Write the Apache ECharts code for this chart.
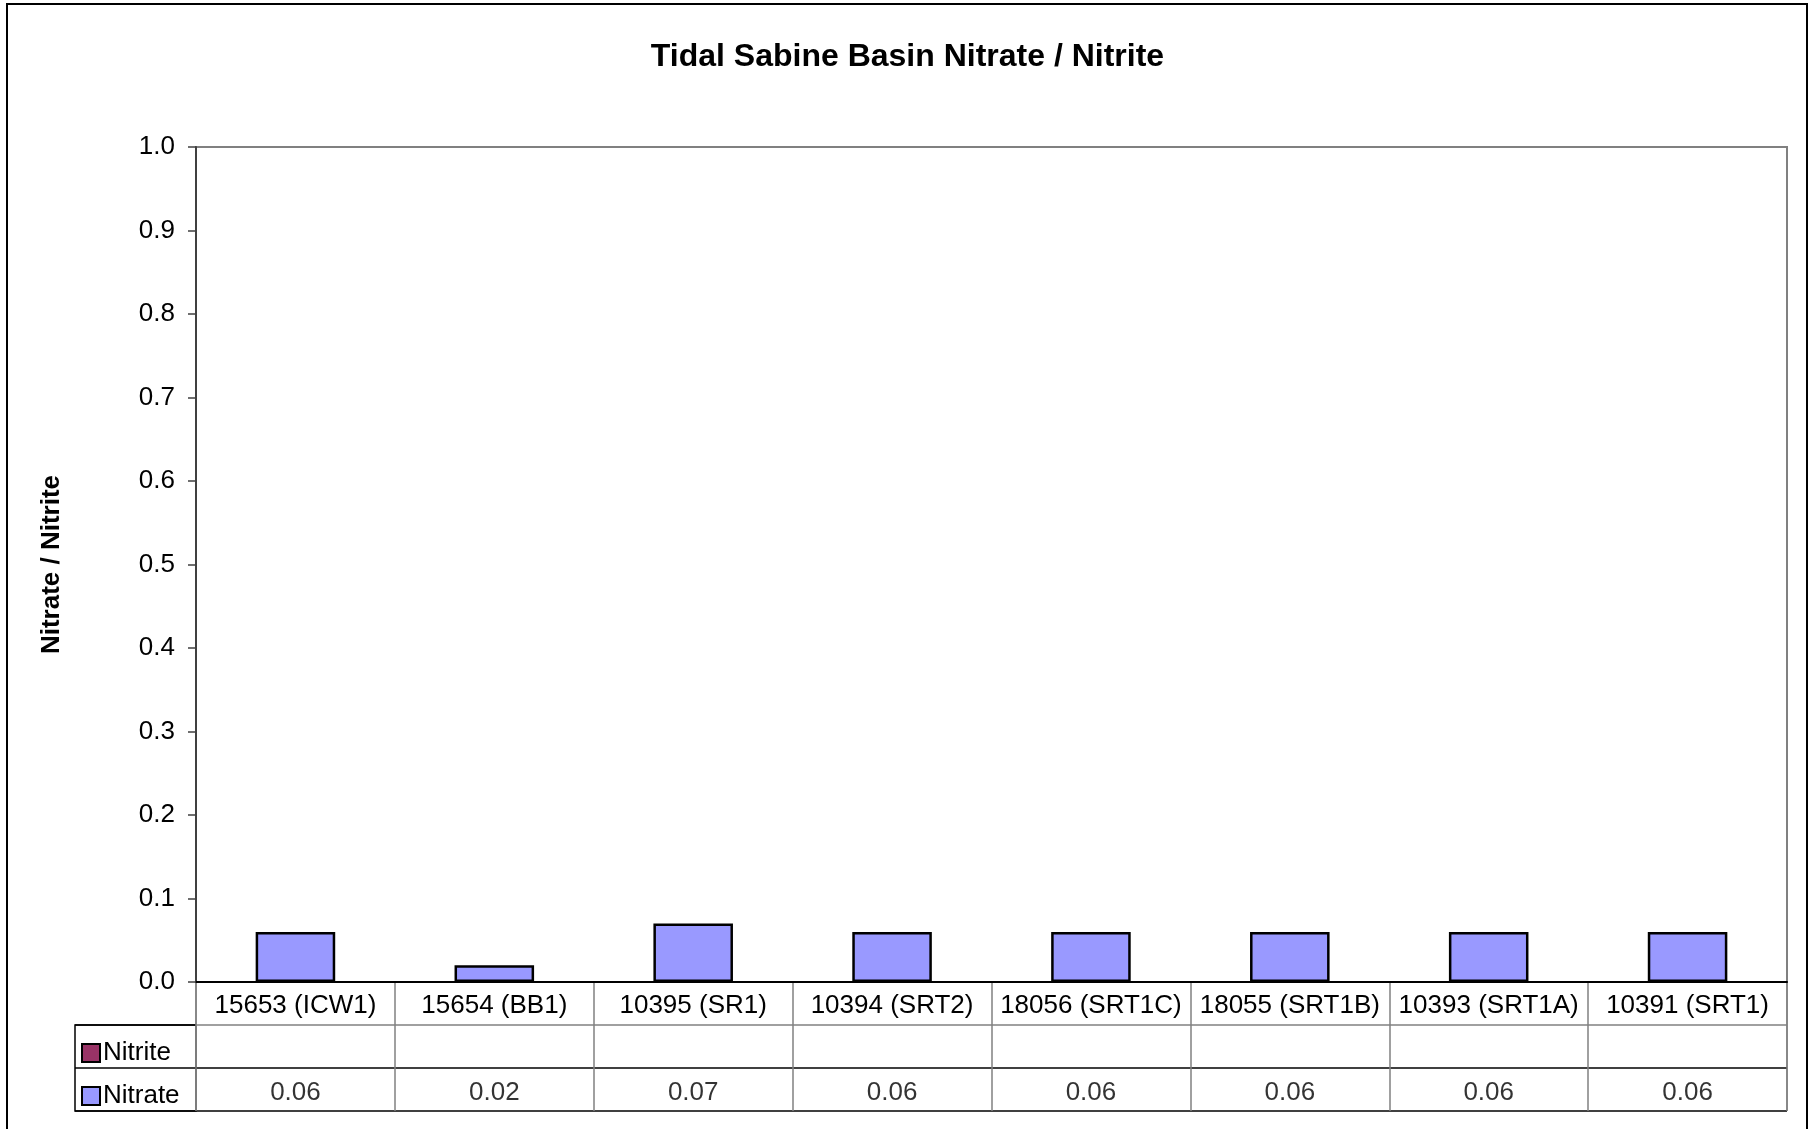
<!DOCTYPE html>
<html>
<head>
<meta charset="utf-8">
<script src="https://cdn.jsdelivr.net/npm/echarts@6/dist/echarts.min.js"></script>
<style>
html,body{margin:0;padding:0;background:#fff;}
#chart{width:1815px;height:1129px;}
</style>
</head>
<body>
<div id="chart"></div>
<script>
const titleText = 'Tidal Sabine Basin Nitrate / Nitrite';
const yAxisTitle = 'Nitrate / Nitrite';
const categories = ['15653 (ICW1)','15654 (BB1)','10395 (SR1)','10394 (SRT2)','18056 (SRT1C)','18055 (SRT1B)','10393 (SRT1A)','10391 (SRT1)'];
const nitrate = [0.06,0.02,0.07,0.06,0.06,0.06,0.06,0.06];
const nitrite = [null,null,null,null,null,null,null,null];
const tableRows = ['Nitrate','Nitrite',''];
const yMin = 0, yMax = 1, yStep = 0.1;

const FONT = 'Liberation Sans, Arial, Helvetica, sans-serif';
const chart = echarts.init(document.getElementById('chart'));

const tableNitrate = nitrate.map((v,i)=> v==null ? null : [i,'Nitrate',v]).filter(d=>d);
const tableNitrite = nitrite.map((v,i)=> v==null ? null : [i,'Nitrite',v]).filter(d=>d);

const option = {
  backgroundColor:'#fff',
  animation:false,
  textStyle:{fontFamily:FONT},
  title:{
    text:titleText, left:'center', top:41, padding:0,
    textStyle:{fontFamily:FONT,fontSize:32,fontWeight:'bold',color:'#000'}
  },
  legend:{
    data:['Nitrite','Nitrate'],
    orient:'vertical', left:81, top:1040, padding:0,
    itemWidth:18, itemHeight:18, itemGap:17,
    icon:'rect',
    selectedMode:false,
    itemStyle:{borderColor:'#000', borderWidth:2},
    textStyle:{fontFamily:FONT,fontSize:26,color:'#000',padding:[0,0,0,-2]}
  },
  grid:[
    {left:196, top:147, width:1591, height:835, show:true, borderColor:'#808080', borderWidth:2, containLabel:false},
    {left:196, top:982, width:1591, height:129, show:false},
    {left:75, top:1025, width:121, height:86, show:true, borderColor:'#000', borderWidth:1.5}
  ],
  xAxis:[
    {gridIndex:0, type:'category', data:categories, position:'bottom',
     axisLine:{show:true,lineStyle:{color:'#000',width:2}},
     axisTick:{show:false},
     axisLabel:{show:true, interval:0, margin:11, fontSize:26, fontFamily:FONT, color:'#000'},
     splitLine:{show:false}},
    {gridIndex:1, type:'category', data:categories,
     axisLine:{show:false}, axisTick:{show:false}, axisLabel:{show:false},
     splitLine:{show:true, interval:0, lineStyle:{color:'#808080',width:1.5}}},
    {gridIndex:2, type:'value', show:false}
  ],
  yAxis:[
    {gridIndex:0, type:'value', min:yMin, max:yMax, interval:yStep,
     name:yAxisTitle, nameLocation:'middle', nameGap:131, nameRotate:90,
     nameTextStyle:{fontFamily:FONT,fontSize:26,fontWeight:'bold',color:'#000'},
     axisLine:{show:true,lineStyle:{color:'#404040',width:2}},
     axisTick:{show:true,length:8,lineStyle:{color:'#404040',width:1.5}},
     axisLabel:{margin:21,fontSize:26,fontFamily:FONT,color:'#000',formatter:v=>v.toFixed(1)},
     splitLine:{show:false}},
    {gridIndex:1, type:'category', data:tableRows,
     axisLine:{show:false}, axisTick:{show:false}, axisLabel:{show:false},
     splitLine:{show:true, interval:0, lineStyle:{color:['#000','#000','#808080','#000'],width:1.5}}},
    {gridIndex:2, type:'category', data:['Nitrate','Nitrite'],
     axisLine:{show:false}, axisTick:{show:false}, axisLabel:{show:false},
     splitLine:{show:true, interval:0, lineStyle:{color:'#000',width:1.5}}}
  ],
  series:[
    {name:'Nitrate', type:'bar', xAxisIndex:0, yAxisIndex:0, stack:'total', barWidth:'40%',
     data:nitrate, itemStyle:{color:'#9999FF', borderColor:'#000', borderWidth:2.5}},
    {name:'Nitrite', type:'bar', xAxisIndex:0, yAxisIndex:0, stack:'total', barWidth:'40%',
     data:nitrite, itemStyle:{color:'#993366', borderColor:'#000', borderWidth:2.5}},
    {name:'tableNitrate', type:'scatter', xAxisIndex:1, yAxisIndex:1, symbolSize:0, silent:true,
     data:tableNitrate,
     label:{show:true, position:'inside', offset:[0,3], fontSize:26, fontFamily:FONT, color:'#000', formatter:p=>p.value[2].toFixed(2)}},
    {name:'tableNitrite', type:'scatter', xAxisIndex:1, yAxisIndex:1, symbolSize:0, silent:true,
     data:tableNitrite,
     label:{show:true, position:'inside', offset:[0,3], fontSize:26, fontFamily:FONT, color:'#000', formatter:p=>p.value[2].toFixed(2)}}
  ],
  graphic:[
    {type:'rect', silent:true, shape:{x:7,y:4,width:1800,height:1135},
     style:{fill:'none', stroke:'#000', lineWidth:2}},
    {type:'line', silent:true, shape:{x1:1787,y1:982,x2:1787,y2:1111}, style:{stroke:'#808080',lineWidth:1.5}},
    {type:'line', silent:true, shape:{x1:196,y1:982,x2:196,y2:1111}, style:{stroke:'#808080',lineWidth:1.5}}
  ]
};
chart.setOption(option);
</script>
</body>
</html>
